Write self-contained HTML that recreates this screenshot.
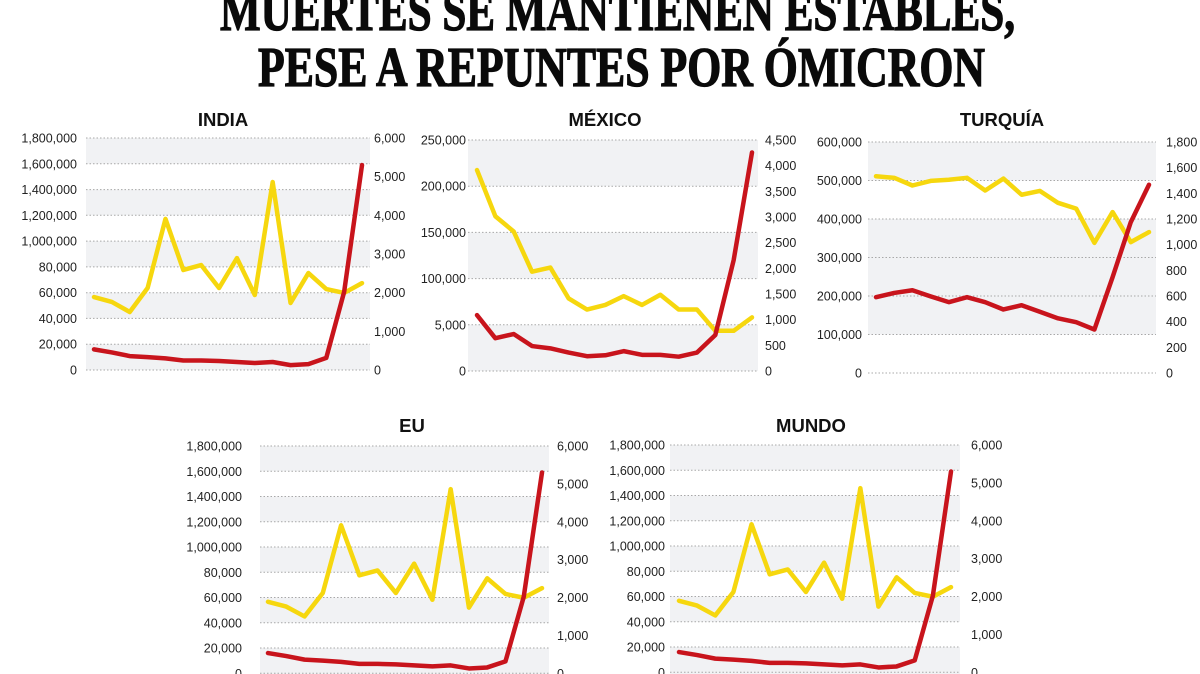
<!DOCTYPE html>
<html>
<head>
<meta charset="utf-8">
<style>
html,body{margin:0;padding:0;background:#fff;}
svg{display:block;}
.lab{font-family:"Liberation Sans",sans-serif;font-size:12.5px;fill:#222;}
.ttl{font-family:"Liberation Sans",sans-serif;font-size:18.5px;font-weight:bold;fill:#111;text-anchor:middle;}
.grid{stroke:#a8a8a8;stroke-width:1;stroke-dasharray:1.5 2;}
.band{fill:#f1f2f4;}
.y{fill:none;stroke:#f6d70e;stroke-width:4.5;stroke-linejoin:round;stroke-linecap:round;vector-effect:non-scaling-stroke;}
.r{fill:none;stroke:#c8141c;stroke-width:4.5;stroke-linejoin:round;stroke-linecap:round;vector-effect:non-scaling-stroke;}
.head{font-family:"Liberation Serif",serif;font-weight:bold;font-size:56px;fill:#0a0a0a;stroke:#0a0a0a;stroke-width:1.3;}
</style>
</head>
<body>
<svg width="1200" height="674" viewBox="0 0 1200 674" xmlns="http://www.w3.org/2000/svg">
<rect width="1200" height="674" fill="#fff"/>

<!-- Headline -->
<text class="head" x="220" y="30" textLength="795" lengthAdjust="spacingAndGlyphs">MUERTES SE MANTIENEN ESTABLES,</text>
<text class="head" x="258" y="86" textLength="727" lengthAdjust="spacingAndGlyphs">PESE A REPUNTES POR ÓMICRON</text>

<!-- ============ INDIA ============ -->
<text class="ttl" x="223" y="126">INDIA</text>
<rect class="band" x="86" y="138" width="284" height="25.8"/>
<rect class="band" x="86" y="189.6" width="284" height="25.7"/>
<rect class="band" x="86" y="241.1" width="284" height="25.8"/>
<rect class="band" x="86" y="292.7" width="284" height="25.7"/>
<rect class="band" x="86" y="344.2" width="284" height="25.8"/>
<g class="grid">
<line x1="86" x2="370" y1="138" y2="138"/><line x1="86" x2="370" y1="163.8" y2="163.8"/>
<line x1="86" x2="370" y1="189.6" y2="189.6"/><line x1="86" x2="370" y1="215.3" y2="215.3"/>
<line x1="86" x2="370" y1="241.1" y2="241.1"/><line x1="86" x2="370" y1="266.9" y2="266.9"/>
<line x1="86" x2="370" y1="292.7" y2="292.7"/><line x1="86" x2="370" y1="318.4" y2="318.4"/>
<line x1="86" x2="370" y1="344.2" y2="344.2"/><line x1="86" x2="370" y1="370" y2="370"/>
</g>
<g class="lab" text-anchor="end">
<text x="77" y="142.5">1,800,000</text><text x="77" y="168.3">1,600,000</text>
<text x="77" y="194.1">1,400,000</text><text x="77" y="219.8">1,200,000</text>
<text x="77" y="245.6">1,000,000</text><text x="77" y="271.4">80,000</text>
<text x="77" y="297.2">60,000</text><text x="77" y="322.9">40,000</text>
<text x="77" y="348.7">20,000</text><text x="77" y="374.5">0</text>
</g>
<g class="lab">
<text x="374" y="142.5">6,000</text><text x="374" y="181.2">5,000</text>
<text x="374" y="219.8">4,000</text><text x="374" y="258.5">3,000</text>
<text x="374" y="297.2">2,000</text><text x="374" y="335.8">1,000</text>
<text x="374" y="374.5">0</text>
</g>
<g transform="translate(94,370) scale(17.867,-25.78)">
<polyline class="y" points="0,2.83 1,2.64 2,2.25 3,3.18 4,5.86 5,3.88 6,4.07 7,3.18 8,4.34 9,2.91 10,7.29 11,2.60 12,3.76 13,3.14 14,2.99 15,3.37"/>
<polyline class="r" points="0,0.80 1,0.68 2,0.54 3,0.50 4,0.45 5,0.37 6,0.37 7,0.35 8,0.31 9,0.27 10,0.31 11,0.19 12,0.23 13,0.47 14,3.03 15,7.95"/>
</g>

<!-- ============ MEXICO ============ -->
<text class="ttl" x="605" y="126">MÉXICO</text>
<rect class="band" x="468" y="140" width="290" height="46.2"/>
<rect class="band" x="468" y="232.4" width="290" height="46.2"/>
<rect class="band" x="468" y="324.8" width="290" height="46.2"/>
<g class="grid">
<line x1="468" x2="758" y1="140" y2="140"/><line x1="468" x2="758" y1="186.2" y2="186.2"/>
<line x1="468" x2="758" y1="232.4" y2="232.4"/><line x1="468" x2="758" y1="278.6" y2="278.6"/>
<line x1="468" x2="758" y1="324.8" y2="324.8"/><line x1="468" x2="758" y1="371" y2="371"/>
</g>
<g class="lab" text-anchor="end">
<text x="466" y="144.5">250,000</text><text x="466" y="190.7">200,000</text>
<text x="466" y="236.9">150,000</text><text x="466" y="283.1">100,000</text>
<text x="466" y="329.3">5,000</text><text x="466" y="375.5">0</text>
</g>
<g class="lab">
<text x="765" y="144.5">4,500</text><text x="765" y="170.2">4,000</text>
<text x="765" y="195.8">3,500</text><text x="765" y="221.5">3,000</text>
<text x="765" y="247.2">2,500</text><text x="765" y="272.8">2,000</text>
<text x="765" y="298.5">1,500</text><text x="765" y="324.2">1,000</text>
<text x="765" y="349.8">500</text><text x="765" y="375.5">0</text>
</g>
<g transform="translate(477,371) scale(18.333,-46.2)">
<polyline class="y" points="0,4.35 1,3.35 2,3.02 3,2.15 4,2.24 5,1.57 6,1.33 7,1.43 8,1.62 9,1.43 10,1.65 11,1.33 12,1.33 13,0.87 14,0.87 15,1.16"/>
<polyline class="r" points="0,1.21 1,0.71 2,0.80 3,0.54 4,0.49 5,0.40 6,0.32 7,0.34 8,0.43 9,0.35 10,0.35 11,0.31 12,0.40 13,0.78 14,2.40 15,4.73"/>
</g>

<!-- ============ TURQUIA ============ -->
<text class="ttl" x="1002" y="126">TURQUÍA</text>
<rect class="band" x="868" y="142" width="288" height="38.5"/>
<rect class="band" x="868" y="219" width="288" height="115.5"/>
<g class="grid">
<line x1="868" x2="1156" y1="142" y2="142"/><line x1="868" x2="1156" y1="180.5" y2="180.5"/>
<line x1="868" x2="1156" y1="219" y2="219"/><line x1="868" x2="1156" y1="257.5" y2="257.5"/>
<line x1="868" x2="1156" y1="296" y2="296"/><line x1="868" x2="1156" y1="334.5" y2="334.5"/>
<line x1="868" x2="1156" y1="373" y2="373"/>
</g>
<g class="lab" text-anchor="end">
<text x="862" y="146.5">600,000</text><text x="862" y="185">500,000</text>
<text x="862" y="223.5">400,000</text><text x="862" y="262">300,000</text>
<text x="862" y="300.5">200,000</text><text x="862" y="339">100,000</text>
<text x="862" y="377.5">0</text>
</g>
<g class="lab">
<text x="1166" y="146.5">1,800</text><text x="1166" y="172.2">1,600</text>
<text x="1166" y="197.8">1,400</text><text x="1166" y="223.5">1,200</text>
<text x="1166" y="249.2">1,000</text><text x="1166" y="274.8">800</text>
<text x="1166" y="300.5">600</text><text x="1166" y="326.2">400</text>
<text x="1166" y="351.8">200</text><text x="1166" y="377.5">0</text>
</g>
<g transform="translate(876,373) scale(18.2,-38.5)">
<polyline class="y" points="0,5.11 1,5.07 2,4.87 3,4.99 4,5.02 5,5.07 6,4.74 7,5.05 8,4.63 9,4.73 10,4.42 11,4.27 12,3.38 13,4.18 14,3.40 15,3.66"/>
<polyline class="r" points="0,1.97 1,2.08 2,2.15 3,1.99 4,1.84 5,1.97 6,1.84 7,1.65 8,1.76 9,1.59 10,1.42 11,1.32 12,1.13 13,2.49 14,3.92 15,4.89"/>
</g>

<!-- ============ EU ============ -->
<text class="ttl" x="412" y="432">EU</text>
<rect class="band" x="260" y="446" width="289" height="25.25"/>
<rect class="band" x="260" y="496.5" width="289" height="25.25"/>
<rect class="band" x="260" y="547" width="289" height="25.25"/>
<rect class="band" x="260" y="597.5" width="289" height="25.25"/>
<rect class="band" x="260" y="648" width="289" height="26"/>
<g class="grid">
<line x1="260" x2="549" y1="446" y2="446"/><line x1="260" x2="549" y1="471.25" y2="471.25"/>
<line x1="260" x2="549" y1="496.5" y2="496.5"/><line x1="260" x2="549" y1="521.75" y2="521.75"/>
<line x1="260" x2="549" y1="547" y2="547"/><line x1="260" x2="549" y1="572.25" y2="572.25"/>
<line x1="260" x2="549" y1="597.5" y2="597.5"/><line x1="260" x2="549" y1="622.75" y2="622.75"/>
<line x1="260" x2="549" y1="648" y2="648"/><line x1="260" x2="549" y1="673.25" y2="673.25"/>
</g>
<g class="lab" text-anchor="end">
<text x="242" y="450.5">1,800,000</text><text x="242" y="475.8">1,600,000</text>
<text x="242" y="501">1,400,000</text><text x="242" y="526.3">1,200,000</text>
<text x="242" y="551.5">1,000,000</text><text x="242" y="576.8">80,000</text>
<text x="242" y="602">60,000</text><text x="242" y="627.3">40,000</text>
<text x="242" y="652.5">20,000</text><text x="242" y="677.8">0</text>
</g>
<g class="lab">
<text x="557" y="450.5">6,000</text><text x="557" y="488.4">5,000</text>
<text x="557" y="526.3">4,000</text><text x="557" y="564.1">3,000</text>
<text x="557" y="602">2,000</text><text x="557" y="639.9">1,000</text>
<text x="557" y="677.8">0</text>
</g>
<g transform="translate(268,673.25) scale(18.267,-25.25)">
<polyline class="y" points="0,2.83 1,2.64 2,2.25 3,3.18 4,5.86 5,3.88 6,4.07 7,3.18 8,4.34 9,2.91 10,7.29 11,2.60 12,3.76 13,3.14 14,2.99 15,3.37"/>
<polyline class="r" points="0,0.80 1,0.68 2,0.54 3,0.50 4,0.45 5,0.37 6,0.37 7,0.35 8,0.31 9,0.27 10,0.31 11,0.19 12,0.23 13,0.47 14,3.03 15,7.95"/>
</g>

<!-- ============ MUNDO ============ -->
<text class="ttl" x="811" y="432">MUNDO</text>
<rect class="band" x="670" y="445" width="290" height="25.25"/>
<rect class="band" x="670" y="495.5" width="290" height="25.25"/>
<rect class="band" x="670" y="546" width="290" height="25.25"/>
<rect class="band" x="670" y="596.5" width="290" height="25.25"/>
<rect class="band" x="670" y="647" width="290" height="27"/>
<g class="grid">
<line x1="670" x2="960" y1="445" y2="445"/><line x1="670" x2="960" y1="470.25" y2="470.25"/>
<line x1="670" x2="960" y1="495.5" y2="495.5"/><line x1="670" x2="960" y1="520.75" y2="520.75"/>
<line x1="670" x2="960" y1="546" y2="546"/><line x1="670" x2="960" y1="571.25" y2="571.25"/>
<line x1="670" x2="960" y1="596.5" y2="596.5"/><line x1="670" x2="960" y1="621.75" y2="621.75"/>
<line x1="670" x2="960" y1="647" y2="647"/><line x1="670" x2="960" y1="672.25" y2="672.25"/>
</g>
<g class="lab" text-anchor="end">
<text x="665" y="449.5">1,800,000</text><text x="665" y="474.8">1,600,000</text>
<text x="665" y="500">1,400,000</text><text x="665" y="525.3">1,200,000</text>
<text x="665" y="550.5">1,000,000</text><text x="665" y="575.8">80,000</text>
<text x="665" y="601">60,000</text><text x="665" y="626.3">40,000</text>
<text x="665" y="651.5">20,000</text><text x="665" y="676.8">0</text>
</g>
<g class="lab">
<text x="971" y="449.5">6,000</text><text x="971" y="487.4">5,000</text>
<text x="971" y="525.3">4,000</text><text x="971" y="563.1">3,000</text>
<text x="971" y="601">2,000</text><text x="971" y="638.9">1,000</text>
<text x="971" y="676.8">0</text>
</g>
<g transform="translate(679,672.25) scale(18.133,-25.25)">
<polyline class="y" points="0,2.83 1,2.64 2,2.25 3,3.18 4,5.86 5,3.88 6,4.07 7,3.18 8,4.34 9,2.91 10,7.29 11,2.60 12,3.76 13,3.14 14,2.99 15,3.37"/>
<polyline class="r" points="0,0.80 1,0.68 2,0.54 3,0.50 4,0.45 5,0.37 6,0.37 7,0.35 8,0.31 9,0.27 10,0.31 11,0.19 12,0.23 13,0.47 14,3.03 15,7.95"/>
</g>
</svg>
</body>
</html>
